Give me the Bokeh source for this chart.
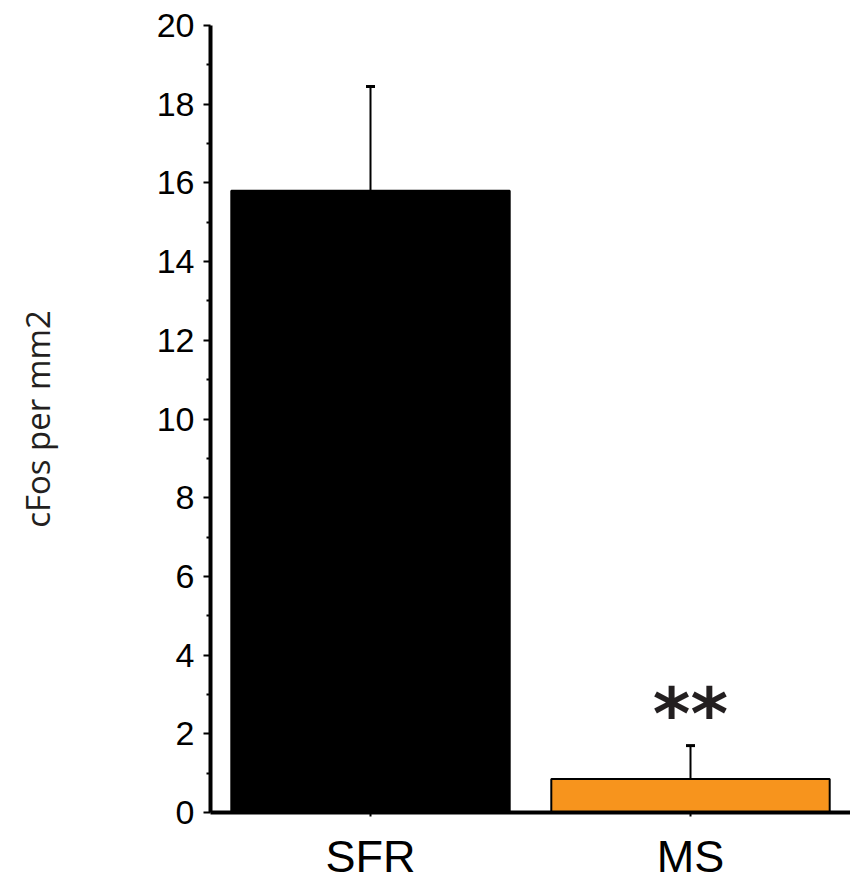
from bokeh.plotting import figure
from bokeh.models import FactorRange, Range1d, Whisker, ColumnDataSource, TeeHead, FixedTicker
from bokeh.core.properties import value
from bokeh.embed import file_html
from bokeh.resources import INLINE

categories = ["SFR", "MS"]
means = [15.8, 0.85]
errors = [2.65, 0.85]
colors = ["#000000", "#F7941D"]
sig_labels = ["", "**"]
y_ticks = [0, 2, 4, 6, 8, 10, 12, 14, 16, 18, 20]
y_title = "cFos per mm2"

upper = [m + e for m, e in zip(means, errors)]
src = ColumnDataSource(dict(x=categories, top=means, upper=upper, color=colors))

p = figure(x_range=FactorRange(*categories, range_padding=0), y_range=Range1d(0, 20),
           width=850, height=884, output_backend="svg", toolbar_location=None,
           min_border_left=210, min_border_right=0, min_border_top=25, min_border_bottom=66)
p.outline_line_color = None
p.grid.visible = False
p.background_fill_color = None
p.border_fill_color = "white"

p.vbar(x="x", top="top", width=0.87, bottom=0, source=src, fill_color="color",
       line_color="#000000", line_width=2)

w = Whisker(base="x", lower="top", upper="upper", source=src, line_color="#000000", line_width=2,
            upper_head=TeeHead(size=9, line_width=3, line_color="#000000"), lower_head=None)
p.add_layout(w)

p.text(x=[categories[1]], y=[2.5], text=[sig_labels[1]], text_align="center", text_baseline="middle",
       text_font=value("DejaVu Sans"), text_font_style="bold", text_font_size="72px",
       text_color="#231F20")

ya = p.yaxis[0]
ya.ticker = FixedTicker(ticks=y_ticks, minor_ticks=[i for i in range(1, 20, 2)])
ya.axis_line_width = 4
ya.axis_line_color = "black"
ya.major_tick_in = 0
ya.major_tick_out = 7
ya.major_tick_line_width = 2
ya.minor_tick_in = 0
ya.minor_tick_out = 4
ya.minor_tick_line_width = 2
ya.major_label_text_font = "Liberation Sans"
ya.major_label_text_font_size = "34px"
ya.major_label_text_color = "black"
ya.major_label_standoff = 9
ya.axis_label = y_title
ya.axis_label_text_font = "Open Sans"
ya.axis_label_text_font_style = "normal"
ya.axis_label_text_font_size = "33px"
ya.axis_label_text_color = "#231F20"
ya.axis_label_standoff = 94

xa = p.xaxis[0]
xa.axis_line_width = 4
xa.axis_line_color = "black"
xa.major_tick_in = 0
xa.major_tick_out = 4
xa.major_tick_line_width = 2
xa.minor_tick_line_color = None
xa.major_label_text_font = "Liberation Sans"
xa.major_label_text_font_size = "45px"
xa.major_label_text_color = "black"
xa.major_label_standoff = 14

open("out.html", "w").write(file_html(p, INLINE))
